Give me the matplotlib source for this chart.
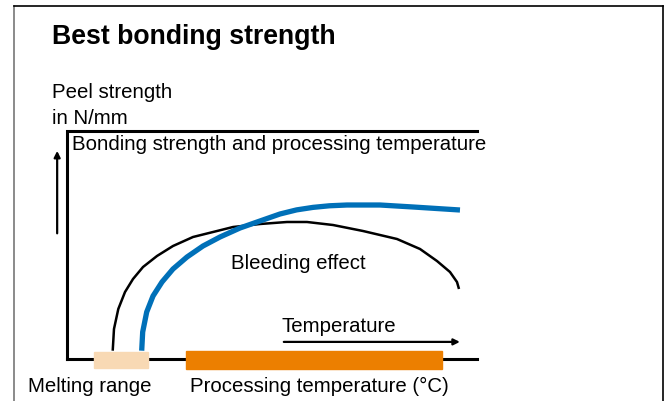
import matplotlib.pyplot as plt
from matplotlib.patches import Rectangle
from matplotlib.lines import Line2D

plt.rcParams['font.family'] = ['Liberation Sans', 'DejaVu Sans']

# curves (temperature 0-100, peel strength 0-100, arbitrary units)
bleed_x = [11.15, 11.46, 12.51, 14.15, 16.10, 18.54, 21.95, 25.85, 30.73, 35.61, 40.49, 47.07,
           53.66, 58.54, 64.88, 72.20, 80.49, 86.10, 90.24, 93.41, 95.12, 95.61]
bleed_y = [3.64, 13.16, 21.93, 29.39, 35.09, 40.35, 45.18, 49.56, 53.51, 55.70, 57.89, 59.21,
           60.09, 60.09, 58.77, 56.14, 52.63, 48.25, 42.98, 38.16, 33.77, 30.70]
bond_x = [18.22, 18.46, 19.44, 20.98, 23.17, 25.85, 29.27, 33.17, 37.32, 42.20, 47.07, 51.95,
          56.0, 60.0, 64.0, 68.29, 76.34, 84.39, 95.85]
bond_y = [3.64, 11.84, 20.61, 27.63, 33.77, 39.47, 44.74, 49.56, 53.51, 57.46, 60.53, 63.60,
          65.4, 66.5, 67.2, 67.54, 67.54, 66.67, 65.35]

# temperature ranges (start, end)
melting_range = (6.6, 19.8)
processing_range = (29.0, 91.5)

W, H = 667, 402
fig = plt.figure(figsize=(W / 100, H / 100), dpi=100)

# outer frame (left, top, right)
fig.add_artist(Line2D([14 / W, 14 / W], [0, 1 - 7 / H], color='#777777', lw=1.2))
fig.add_artist(Line2D([14 / W, 663 / W], [1 - 7 / H, 1 - 7 / H], color='black', lw=1.2))
fig.add_artist(Line2D([663 / W, 663 / W], [0, 1 - 7 / H], color='black', lw=1.2))

ax = fig.add_axes([67 / W, 1 - 360 / H, 410 / W, 228 / H])
ax.set_xlim(0, 100)
ax.set_ylim(0, 100)
ax.axis('off')

# axis frame: left, top, bottom
ax.plot([0, 0, 100], [0, 100, 100], color='black', lw=2.2, clip_on=False, solid_joinstyle='miter')
ax.plot([0, 100], [0, 0], color='black', lw=2.2, clip_on=False)

# temperature bands
ax.add_patch(Rectangle((melting_range[0], -3.9), melting_range[1] - melting_range[0], 7.0,
                       color='#F8D9B4', clip_on=False, zorder=3))
ax.add_patch(Rectangle((processing_range[0], -4.2), processing_range[1] - processing_range[0], 7.5,
                       color='#EC7F00', clip_on=False, zorder=3))

# curves
ax.plot(bleed_x, bleed_y, color='black', lw=1.8, solid_capstyle='butt',
        solid_joinstyle='round', zorder=4)
ax.plot(bond_x, bond_y, color='#0070B8', lw=3.8, solid_capstyle='butt',
        solid_joinstyle='round', zorder=5)

# arrows
ax.annotate('', xy=(-2.4, 92.5), xytext=(-2.4, 53.9), annotation_clip=False,
            arrowprops=dict(arrowstyle='-|>', color='black', lw=1.6, mutation_scale=9))
ax.annotate('', xy=(96.5, 7.5), xytext=(52.2, 7.5), annotation_clip=False,
            arrowprops=dict(arrowstyle='-|>', color='black', lw=1.6, mutation_scale=9))

# texts
fs = 14.7
ax.text(1.2, 94.7, 'Bonding strength and processing temperature', fontsize=fs,
        va='center', ha='left', clip_on=False)
ax.text(40.0, 42.5, 'Bleeding effect', fontsize=fs, va='center', ha='left')
ax.text(52.2, 14.5, 'Temperature', fontsize=fs, va='center', ha='left')
ax.text(-9.5, -11.8, 'Melting range', fontsize=fs, va='center', ha='left', clip_on=False)
ax.text(30.0, -11.8, 'Processing temperature (°C)', fontsize=fs, va='center', ha='left', clip_on=False)

fig.text(52 / W, 1 - 37 / H, 'Best bonding strength', fontsize=19.2, fontweight='bold',
         va='center', ha='left')
fig.text(52 / W, 1 - 92 / H, 'Peel strength', fontsize=fs, va='center', ha='left')
fig.text(52 / W, 1 - 118 / H, 'in N/mm', fontsize=fs, va='center', ha='left')

fig.savefig('out.png', dpi=100)
